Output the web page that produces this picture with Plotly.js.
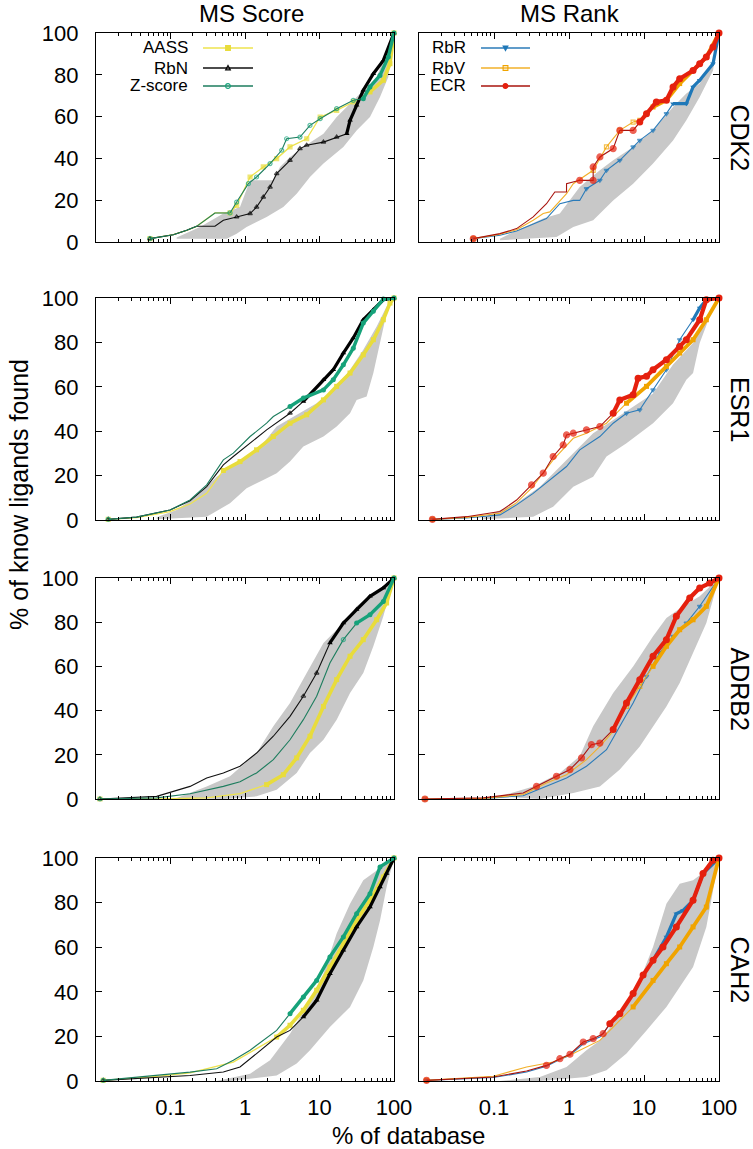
<!DOCTYPE html>
<html><head><meta charset="utf-8">
<script src="https://cdn.plot.ly/plotly-3.0.1.min.js"></script>
<style>html,body{margin:0;padding:0;background:#fff}#chart{width:753px;height:1149px}</style>
</head><body><div id="chart"></div>
<script>
// ---------------- DATA (x: % of database, y: % of known ligands found) ----------------
const targets = ['CDK2','ESR1','ADRB2','CAH2'];
const columns = ['MS Score','MS Rank'];
const scoreNames = ['AASS','RbN','Z-score'];
const rankNames = ['RbR','RbV','ECR'];
const xTickVals = [0.1,1,10,100];
const xTickText = ['0.1','1','10','100'];
const yTickVals = [0,20,40,60,80,100];

// CDK2 - MS Score
const CDK2_AASS_x = [0.053,0.109,0.165,0.224,0.395,0.629,0.773,1.17,1.76,2.66,4.02,6.73,10.2,17.0,28.4,47.6,71.9,88.3,100];
const CDK2_AASS_y = [1.6,3.5,5.6,7.5,13.9,13.9,17.5,31.1,35.9,39.9,45.5,49.4,59.8,63.0,67.0,71.8,77.4,85.3,100];
const CDK2_RbN_x = [0.053,0.109,0.165,0.224,0.395,0.512,0.773,1.17,1.43,1.76,2.17,2.66,4.02,5.47,6.73,11.3,17.0,23.2,25.7,31.5,38.7,52.8,71.9,100];
const CDK2_RbN_y = [1.6,3.5,5.6,7.5,7.5,10.4,12.0,13.6,16.7,21.5,26.3,32.7,39.1,44.7,46.3,47.8,50.2,51.8,58.2,65.4,72.6,80.5,86.9,100];
const CDK2_Z_x = [0.053,0.109,0.165,0.224,0.395,0.629,0.773,1.11,1.43,2.17,3.11,3.62,5.47,7.45,10.2,17.0,28.4,38.7,47.6,64.9,83.9,100];
const CDK2_Z_y = [1.6,3.5,5.6,7.5,13.9,13.9,19.1,27.9,31.1,37.5,43.9,49.4,50.2,55.8,59.0,63.8,67.8,68.6,74.2,79.7,88.5,100];
const CDK2_ScoreLo_x = [0.121,0.567,0.773,1.05,1.95,3.27,4.94,7.45,11.3,20.9,31.5,47.6,64.9,83.9,100];
const CDK2_ScoreLo_y = [1.6,1.6,4.0,7.2,12.0,16.7,23.1,31.1,37.5,45.5,53.4,59.8,69.4,78.9,100];
const CDK2_ScoreHi_x = [0.121,0.249,0.512,0.857,1.17,2.40,2.95,4.02,6.07,11.3,17.0,25.7,38.7,58.5,100];
const CDK2_ScoreHi_y = [2.1,7.2,13.6,16.7,29.5,29.5,35.9,40.7,45.5,51.8,59.8,66.2,72.6,78.9,100];
// CDK2 - MS Rank
const CDK2_RbR_x = [0.053,0.12,0.2,0.333,0.50,0.755,1.14,1.39,1.71,2.58,3.16,4.76,7.16,8.78,13.2,19.9,24.4,36.7,45.1,55.3,83.2,100];
const CDK2_RbR_y = [1.6,3.2,5.3,8.8,11.2,18.3,19.9,19.9,25.5,29.5,34.3,39.1,45.5,48.6,53.4,61.4,66.2,66.2,74.2,77.4,85.3,100];
const CDK2_RbV_x = [0.053,0.12,0.2,0.333,0.453,0.556,0.927,1.14,2.10,3.16,4.76,7.16,8.78,13.2,19.9,29.9,45.1,67.8,100];
const CDK2_RbV_y = [1.6,3.7,5.9,10.4,13.6,14.4,23.1,27.9,34.3,45.5,53.4,57.4,58.2,64.6,67.8,75.8,82.1,88.5,100];
const CDK2_ECR_x = [0.053,0.12,0.2,0.333,0.501,0.647,0.927,0.927,1.39,2.10,2.10,2.58,3.88,4.76,7.16,8.78,10.8,14.6,19.9,24.4,29.9,45.1,55.3,67.8,83.2,100];
const CDK2_ECR_y = [1.6,4.0,6.4,12.0,18.3,23.9,23.9,27.9,29.5,29.5,35.9,40.7,44.7,53.4,53.4,57.4,61.4,67.0,67.8,74.2,78.1,82.1,85.3,88.5,93.3,100];
const CDK2_RankLo_x = [0.12,0.682,1.14,2.10,3.88,7.16,13.2,24.4,36.7,55.3,83.2,100];
const CDK2_RankLo_y = [0.8,2.4,7.2,10.4,19.9,27.9,37.5,48.6,58.2,69.4,82.1,100];
const CDK2_RankHi_x = [0.12,0.163,0.453,0.755,1.39,2.58,3.88,7.16,13.2,24.4,36.7,55.3,83.2,100];
const CDK2_RankHi_y = [1.6,4.0,11.2,13.6,26.3,34.3,39.1,45.5,53.4,64.6,71.0,75.8,86.9,100];

// ESR1 - MS Score
const ESR1_AASS_x = [0.0146,0.035,0.0985,0.183,0.306,0.512,0.857,1.43,2.40,4.02,6.73,11.3,17.0,25.7,38.7,52.8,71.9,88.3,100];
const ESR1_AASS_y = [0.3,1.1,3.8,7.2,12.0,22.3,26.3,31.6,37.6,43.6,47.4,54.1,60.2,66.2,74.4,81.2,90.2,97.7,100];
const ESR1_RbN_x = [0.0146,0.035,0.0985,0.183,0.306,0.512,0.697,1.17,1.95,4.02,6.07,11.3,15.3,20.9,28.4,38.7,52.8,71.9,100];
const ESR1_RbN_y = [0.3,1.3,4.5,8.7,15.0,24.8,28.6,34.6,40.6,48.1,53.4,63.2,67.7,75.2,82.0,90.2,94.7,99.2,100];
const ESR1_Z_x = [0.0146,0.035,0.0985,0.183,0.306,0.512,0.697,1.17,1.95,2.40,4.02,6.07,11.3,15.3,20.9,28.4,38.7,52.8,71.9,100];
const ESR1_Z_y = [0.3,1.3,4.5,9.0,15.8,27.1,30.1,37.6,43.6,46.6,51.1,54.9,58.6,63.2,69.9,77.4,88.7,94.0,99.5,100];
const ESR1_ScoreLo_x = [0.0652,0.306,0.629,1.05,1.76,2.66,4.02,6.07,11.3,17.0,25.7,31.5,42.9,52.8,64.9,79.6,100];
const ESR1_ScoreLo_y = [0.3,1.5,7.5,14.3,18.0,21.1,26.3,33.1,37.6,42.1,48.1,54.1,55.6,66.2,79.7,93.2,100];
const ESR1_ScoreHi_x = [0.0652,0.121,0.249,0.417,0.857,1.76,2.66,4.94,9.16,17.0,25.7,38.7,58.5,79.6,100];
const ESR1_ScoreHi_y = [1.2,4.5,12.0,19.5,26.3,34.6,42.1,47.4,52.6,60.2,67.7,76.7,87.2,96.2,100];
// ESR1 - MS Rank
const ESR1_RbR_x = [0.0151,0.0431,0.12,0.2,0.333,0.615,0.927,1.39,2.58,3.88,5.84,8.78,13.2,19.9,29.9,45.1,55.3,67.8,100];
const ESR1_RbR_y = [0.3,0.9,2.3,6.8,12.0,19.5,24.1,31.6,37.6,43.6,48.1,49.6,58.6,67.7,81.2,90.2,95.5,99.2,100];
const ESR1_RbV_x = [0.0151,0.0431,0.12,0.2,0.317,0.615,1.14,1.71,3.16,5.84,10.8,19.9,29.9,45.1,67.8,100];
const ESR1_RbV_y = [0.3,1.2,3.0,7.8,14.3,27.1,36.8,39.1,43.6,52.6,60.2,69.2,75.2,81.2,90.2,100];
const ESR1_ECR_x = [0.0151,0.0431,0.12,0.2,0.317,0.453,0.615,0.836,0.927,1.14,1.71,2.58,3.88,4.76,7.16,8.34,10.8,13.2,19.9,29.9,36.7,55.3,67.8,100];
const ESR1_ECR_y = [0.3,1.5,3.8,9.0,15.8,21.1,28.6,33.8,38.3,39.1,40.6,42.1,48.1,54.1,56.4,63.9,64.7,67.7,72.2,78.2,81.2,90.2,99.2,100];
const ESR1_RankLo_x = [0.072,0.333,0.615,1.14,2.10,3.16,5.84,13.2,24.4,36.7,45.1,55.3,75.2,100];
const ESR1_RankLo_y = [0.3,1.5,6.0,15.0,19.5,28.6,34.6,43.6,52.6,63.2,66.2,79.7,91.7,100];
const ESR1_RankHi_x = [0.072,0.2,0.409,0.755,1.39,2.10,3.88,7.16,13.2,24.4,45.1,67.8,100];
const ESR1_RankHi_y = [1.2,7.5,15.0,24.1,33.1,39.1,45.1,51.1,57.0,70.0,79.7,90.2,100];

// ADRB2 - MS Score
const ADRB2_AASS_x = [0.0113,0.0652,0.306,0.857,1.95,3.27,4.94,7.45,11.3,17.0,25.7,38.7,58.5,79.6,100];
const ADRB2_AASS_y = [0,0,0.5,2.4,6.5,11.0,18.6,28.4,41.9,54.0,64.6,72.1,81.1,88.7,100];
const ADRB2_RbN_x = [0.0113,0.0652,0.183,0.306,0.512,0.857,1.43,2.40,4.02,6.07,9.16,13.8,20.9,31.5,47.6,71.9,100];
const ADRB2_RbN_y = [0,1.2,5.7,9.5,11.8,14.8,20.8,28.4,37.4,46.5,57.0,70.6,79.6,85.7,91.7,95.5,100];
const ADRB2_Z_x = [0.0113,0.0652,0.183,0.512,0.857,1.43,2.40,4.02,6.07,9.16,13.8,20.9,31.5,47.6,71.9,100];
const ADRB2_Z_y = [0,0.5,2.4,5.7,7.8,11.8,17.8,26.8,35.9,46.5,61.5,72.1,79.6,83.4,89.4,100];
const ADRB2_ScoreLo_x = [0.512,1.43,2.66,4.94,7.45,11.3,17.0,25.7,38.7,52.8,71.9,100];
const ADRB2_ScoreLo_y = [0,1.2,4.2,11.8,20.8,26.8,35.9,48.0,57.0,69.1,82.7,100];
const ADRB2_ScoreHi_x = [0.121,0.306,0.629,1.43,2.40,4.02,6.73,11.3,18.8,31.5,52.8,100];
const ADRB2_ScoreHi_y = [0.5,5.7,10.3,20.8,32.9,43.4,57.0,70.6,78.1,87.2,93.2,100];
// ADRB2 - MS Rank
const ADRB2_RbR_x = [0.012,0.072,0.245,0.50,0.927,1.71,3.16,4.76,7.16,10.8,16.2,24.4,36.7,55.3,100];
const ADRB2_RbR_y = [0,0.2,1.5,5.7,9.5,14.8,22.3,32.9,43.4,55.5,66.1,73.6,79.6,87.2,100];
const ADRB2_RbV_x = [0.012,0.072,0.245,0.50,0.927,1.71,2.58,3.88,5.84,8.78,13.2,19.9,29.9,45.1,67.8,100];
const ADRB2_RbV_y = [0,0.3,2.0,7.2,11.0,17.8,23.8,30.6,41.9,51.0,60.0,69.1,76.6,81.1,87.2,100];
const ADRB2_ECR_x = [0.012,0.072,0.245,0.369,0.681,1.03,1.47,1.99,2.58,3.88,5.84,8.78,13.2,19.9,27.0,40.7,55.3,75.2,100];
const ADRB2_ECR_y = [0,0.5,2.7,5.7,10.3,13.3,18.6,24.6,25.3,31.4,43.4,54.0,64.6,72.1,82.7,91.0,95.5,97.7,100];
const ADRB2_RankLo_x = [0.409,1.14,2.58,4.76,8.78,13.2,19.9,29.9,45.1,67.8,100];
const ADRB2_RankLo_y = [0,2.7,5.7,13.3,23.8,32.9,41.9,52.5,66.1,79.6,100];
const ADRB2_RankHi_x = [0.12,0.333,0.755,1.39,2.10,3.88,7.16,13.2,19.9,33.2,55.3,100];
const ADRB2_RankHi_y = [1.2,5.7,11.8,19.3,32.9,48.0,60.0,73.6,81.9,87.2,91.7,100];

// CAH2 - MS Score
const CAH2_AASS_x = [0.0125,0.0652,0.183,0.697,1.43,2.66,4.02,6.07,9.16,13.8,20.9,31.5,47.6,71.9,100];
const CAH2_AASS_y = [0.3,2.1,3.6,8.5,14.5,19.7,25.0,31.7,40.7,51.1,61.6,72.0,81.0,91.5,100];
const CAH2_RbN_x = [0.0125,0.0652,0.183,0.512,0.857,1.43,2.66,4.02,6.07,9.16,13.8,20.9,31.5,47.6,64.9,79.6,100];
const CAH2_RbN_y = [0.3,1.5,2.5,4.0,6.3,12.3,19.7,22.7,28.7,36.2,48.1,58.6,69.1,78.0,87.0,93.0,100];
const CAH2_Z_x = [0.0125,0.0652,0.183,0.417,0.697,1.17,1.76,2.66,4.02,6.07,9.16,13.8,20.9,31.5,47.6,64.9,100];
const CAH2_Z_y = [0.3,2.5,4.0,5.5,9.3,13.8,18.2,22.7,30.2,37.7,45.1,55.6,64.6,75.0,84.0,96.0,100];
const CAH2_ScoreLo_x = [0.629,2.66,4.94,7.45,13.8,25.7,38.7,52.8,64.9,79.6,100];
const CAH2_ScoreLo_y = [0,2.5,7.8,13.8,24.2,33.2,45.1,60.1,72.0,87.0,100];
const CAH2_ScoreHi_x = [0.417,1.17,2.17,4.02,7.45,11.3,17.0,25.7,38.7,58.5,100];
const CAH2_ScoreHi_y = [0,3.3,9.3,21.2,36.2,48.1,66.1,79.5,90.0,94.5,100];
// CAH2 - MS Rank
const CAH2_RbR_x = [0.0126,0.098,0.272,0.50,0.755,1.03,1.55,2.58,3.88,5.84,8.78,13.2,19.9,27.0,33.2,45.1,61.2,100];
const CAH2_RbR_y = [0.3,1.6,4.0,6.6,9.6,11.5,16.7,19.7,27.2,34.7,45.1,54.1,64.6,75.0,76.5,81.0,93.0,100];
const CAH2_RbV_x = [0.0126,0.098,0.272,0.615,1.14,2.58,3.88,7.16,13.2,19.9,29.9,45.1,67.8,100];
const CAH2_RbV_y = [0.3,2.1,6.3,8.5,12.3,18.2,24.2,33.2,45.1,52.6,60.1,69.1,78.0,100];
const CAH2_ECR_x = [0.0126,0.098,0.272,0.50,0.755,1.03,1.55,2.10,2.85,3.50,4.76,7.16,9.73,13.2,17.9,27.0,45.1,61.2,83.2,100];
const CAH2_ECR_y = [0.3,1.8,4.5,7.0,10.0,12.0,17.5,19.0,21.2,25.7,30.2,39.2,47.5,54.1,60.1,69.1,81.0,93.0,99.0,100];
const CAH2_RankLo_x = [0.409,1.71,3.16,5.84,10.8,19.9,29.9,45.1,67.8,100];
const CAH2_RankLo_y = [0,1.8,4.8,12.3,22.7,33.2,42.2,51.1,69.1,100];
const CAH2_RankHi_x = [0.12,0.409,0.927,1.71,2.58,3.88,7.16,13.2,19.9,29.9,45.1,67.8,100];
const CAH2_RankHi_y = [0,1.8,6.3,13.8,18.2,25.7,37.7,60.1,79.5,88.5,90.0,94.5,100];

// ---------------- STRUCTURE ----------------
const panels = [
  {t:'CDK2', col:0, band:[CDK2_ScoreLo_x,CDK2_ScoreLo_y,CDK2_ScoreHi_x,CDK2_ScoreHi_y],
   series:[[CDK2_AASS_x,CDK2_AASS_y],[CDK2_RbN_x,CDK2_RbN_y],[CDK2_Z_x,CDK2_Z_y]]},
  {t:'CDK2', col:1, band:[CDK2_RankLo_x,CDK2_RankLo_y,CDK2_RankHi_x,CDK2_RankHi_y],
   series:[[CDK2_RbR_x,CDK2_RbR_y],[CDK2_RbV_x,CDK2_RbV_y],[CDK2_ECR_x,CDK2_ECR_y]]},
  {t:'ESR1', col:0, band:[ESR1_ScoreLo_x,ESR1_ScoreLo_y,ESR1_ScoreHi_x,ESR1_ScoreHi_y],
   series:[[ESR1_AASS_x,ESR1_AASS_y],[ESR1_RbN_x,ESR1_RbN_y],[ESR1_Z_x,ESR1_Z_y]]},
  {t:'ESR1', col:1, band:[ESR1_RankLo_x,ESR1_RankLo_y,ESR1_RankHi_x,ESR1_RankHi_y],
   series:[[ESR1_RbR_x,ESR1_RbR_y],[ESR1_RbV_x,ESR1_RbV_y],[ESR1_ECR_x,ESR1_ECR_y]]},
  {t:'ADRB2', col:0, band:[ADRB2_ScoreLo_x,ADRB2_ScoreLo_y,ADRB2_ScoreHi_x,ADRB2_ScoreHi_y],
   series:[[ADRB2_AASS_x,ADRB2_AASS_y],[ADRB2_RbN_x,ADRB2_RbN_y],[ADRB2_Z_x,ADRB2_Z_y]]},
  {t:'ADRB2', col:1, band:[ADRB2_RankLo_x,ADRB2_RankLo_y,ADRB2_RankHi_x,ADRB2_RankHi_y],
   series:[[ADRB2_RbR_x,ADRB2_RbR_y],[ADRB2_RbV_x,ADRB2_RbV_y],[ADRB2_ECR_x,ADRB2_ECR_y]]},
  {t:'CAH2', col:0, band:[CAH2_ScoreLo_x,CAH2_ScoreLo_y,CAH2_ScoreHi_x,CAH2_ScoreHi_y],
   series:[[CAH2_AASS_x,CAH2_AASS_y],[CAH2_RbN_x,CAH2_RbN_y],[CAH2_Z_x,CAH2_Z_y]]},
  {t:'CAH2', col:1, band:[CAH2_RankLo_x,CAH2_RankLo_y,CAH2_RankHi_x,CAH2_RankHi_y],
   series:[[CAH2_RbR_x,CAH2_RbR_y],[CAH2_RbV_x,CAH2_RbV_y],[CAH2_ECR_x,CAH2_ECR_y]]}
];

// ---------------- STYLE ----------------
const W = 753, H = 1149;
const FONT = 'Liberation Sans, Arial, Helvetica, sans-serif';
const colPx = [[96,394],[419,719]];
const rowPx = [[33,242],[298,520],[578,799],[858,1081]];
const scoreStyles = [
  {line:'#eee34e', mcolor:'#e8dc3c', symbol:'square', msize:4, lw:1.3, tw:3.6},
  {line:'#111111', mcolor:'#000000', symbol:'triangle-up-open', msize:4, lw:1.1, tw:3.2},
  {line:'#1d7d5e', mcolor:'#16a27a', symbol:'circle-open', msize:4, lw:1.1, tw:3.4}
];
const rankStyles = [
  {line:'#2b7bb9', mcolor:'#1f78b8', symbol:'triangle-down', msize:4, lw:1.1, tw:3.2},
  {line:'#f2b02a', mcolor:'#f0a400', symbol:'square-open', msize:4, lw:1.1, tw:3.8},
  {line:'#a8140e', mcolor:'#e5200e', symbol:'circle', msize:6, lw:1.1, tw:4.2}
];
// per panel, per series: [x where sparse markers start, x where the line becomes dense/thick]
const markCfg = [
  [[0.6,40],[0.6,20],[0.6,30]],
  [[1.5,20],[1.5,10],[1.0,8]],
  [[0.5,0.5],[3,5],[3,3]],
  [[5,30],[5,5],[0.25,3]],
  [[1,1],[5,10],[20,30]],
  [[10,200],[5,10],[0.3,3]],
  [[2,2],[5,5],[3,3]],
  [[10,10],[5,5],[0.3,3]]
];

const minorVals = [];
[0.01,0.1,1,10].forEach(d => { for (let m=2;m<=9;m++) minorVals.push(+(d*m).toPrecision(3)); });

const traces = [];
const layout = {
  width: W, height: H, margin:{l:0,r:0,t:0,b:0},
  paper_bgcolor:'#fff', plot_bgcolor:'#fff', showlegend:false,
  font:{family:FONT, color:'#000'},
  annotations:[], shapes:[]
};

panels.forEach((p, i) => {
  const k = i + 1;
  const row = Math.floor(i/2);
  const xa = 'x' + (k>1?k:''), ya = 'y' + (k>1?k:'');
  const xd = [colPx[p.col][0]/W, colPx[p.col][1]/W];
  const yd = [1 - rowPx[row][1]/H, 1 - rowPx[row][0]/H];
  layout['xaxis' + (k>1?k:'')] = {
    type:'log', range:[-2,2], domain:xd, anchor:ya,
    tickmode:'array', tickvals:xTickVals, ticktext:xTickText,
    ticks:'inside', ticklen:6, tickwidth:1, tickcolor:'#000',
    showline:true, linecolor:'#000', linewidth:1.2, mirror:'allticks',
    showgrid:false, zeroline:false, showticklabels: row===3,
    tickfont:{size:22, family:FONT, color:'#000'}, ticklabelstandoff:6,
    minor:{tickmode:'array', tickvals:minorVals, ticks:'inside', ticklen:3, tickcolor:'#000', showgrid:false}
  };
  layout['yaxis' + (k>1?k:'')] = {
    range:[0,100], domain:yd, anchor:xa,
    tickmode:'array', tickvals:yTickVals,
    ticks:'inside', ticklen:6, tickwidth:1, tickcolor:'#000',
    showline:true, linecolor:'#000', linewidth:1.2, mirror:'allticks',
    showgrid:false, zeroline:false, showticklabels: p.col===0,
    tickfont:{size:22, family:FONT, color:'#000'}, ticklabelstandoff:12
  };
  // gray band polygon
  const [lx, ly, hx, hy] = p.band;
  traces.push({
    x: hx.concat(lx.slice().reverse()), y: hy.concat(ly.slice().reverse()),
    xaxis:xa, yaxis:ya, mode:'lines', fill:'toself', fillcolor:'#c8c8c8',
    line:{width:0, color:'#c8c8c8'}, hoverinfo:'skip'
  });
  const styles = p.col===0 ? scoreStyles : rankStyles;
  const names = p.col===0 ? scoreNames : rankNames;
  p.series.forEach((s, j) => {
    const st = styles[j];
    const [mThr, tThr] = markCfg[i][j];
    const sizes = s[0].map((v, n) => (n===0 || (v>=mThr && v<tThr)) ? st.msize : 0);
    traces.push({
      x: s[0], y: s[1], name: names[j], xaxis:xa, yaxis:ya,
      mode:'lines+markers', cliponaxis:false,
      line:{color:st.line, width:st.lw},
      marker:{color:st.mcolor, symbol:st.symbol, size:sizes, line:{color:st.mcolor, width:1.2}}
    });
    // dense part of the curve (many overlapping points) drawn as a heavier stroke
    const idx = s[0].map((v, n) => n).filter(n => s[0][n] >= tThr);
    if (idx.length > 1) {
      traces.push({
        x: idx.map(n => s[0][n]), y: idx.map(n => s[1][n]), xaxis:xa, yaxis:ya,
        mode:'lines+markers', cliponaxis:false, hoverinfo:'skip',
        line:{color:st.mcolor, width:st.tw},
        marker:{color:st.mcolor, symbol:st.symbol.replace('-open',''), size:st.msize+1}
      });
    }
  });
  if (p.col===1) {
    layout.annotations.push({
      xref:'paper', yref:'paper', x:740/W, y:1-(rowPx[row][0]+rowPx[row][1])/2/H,
      text:p.t, showarrow:false, textangle:90, font:{size:25, family:FONT, color:'#000'},
      xanchor:'center', yanchor:'middle'
    });
  }
});

// column titles
layout.annotations.push({xref:'paper', yref:'paper', x:252/W, y:1-13/H, text:columns[0], showarrow:false,
  font:{size:24, family:FONT, color:'#000'}, xanchor:'center', yanchor:'middle'});
layout.annotations.push({xref:'paper', yref:'paper', x:570/W, y:1-13/H, text:columns[1], showarrow:false,
  font:{size:24, family:FONT, color:'#000'}, xanchor:'center', yanchor:'middle'});
// axis titles
layout.annotations.push({xref:'paper', yref:'paper', x:19/W, y:1-495/H, text:'% of know ligands found', showarrow:false,
  textangle:-90, font:{size:25, family:FONT, color:'#000'}, xanchor:'center', yanchor:'middle'});
layout.annotations.push({xref:'paper', yref:'paper', x:409/W, y:1-1135/H, text:'% of database', showarrow:false,
  font:{size:24, family:FONT, color:'#000'}, xanchor:'center', yanchor:'middle'});

// legends (text, then line sample with marker)
const PX = v => v/W, PY = v => 1 - v/H;
function legendEntry(label, textRight, yc, x0, x1, st) {
  layout.annotations.push({xref:'paper', yref:'paper', x:PX(textRight), y:PY(yc), text:label, showarrow:false,
    xanchor:'right', yanchor:'middle', font:{size:17, family:FONT, color:'#000'}});
  layout.shapes.push({type:'line', xref:'paper', yref:'paper', x0:PX(x0), x1:PX(x1), y0:PY(yc), y1:PY(yc),
    line:{color:st.line, width:1.3}});
  const xm = (x0+x1)/2, r = 2.4;
  let path;
  if (st.symbol.startsWith('triangle-up')) path = `M${PX(xm-r)},${PY(yc+r*0.8)} L${PX(xm+r)},${PY(yc+r*0.8)} L${PX(xm)},${PY(yc-r*1.1)} Z`;
  else if (st.symbol.startsWith('triangle-down')) path = `M${PX(xm-r)},${PY(yc-r*0.8)} L${PX(xm+r)},${PY(yc-r*0.8)} L${PX(xm)},${PY(yc+r*1.1)} Z`;
  else if (st.symbol.startsWith('square')) path = `M${PX(xm-r)},${PY(yc-r)} L${PX(xm+r)},${PY(yc-r)} L${PX(xm+r)},${PY(yc+r)} L${PX(xm-r)},${PY(yc+r)} Z`;
  const open = st.symbol.endsWith('open');
  if (path) {
    layout.shapes.push({type:'path', xref:'paper', yref:'paper', path,
      fillcolor: open ? 'rgba(0,0,0,0)' : st.mcolor, line:{color:st.mcolor, width:1.1}});
  } else {
    layout.shapes.push({type:'circle', xref:'paper', yref:'paper', x0:PX(xm-r), x1:PX(xm+r), y0:PY(yc+r), y1:PY(yc-r),
      fillcolor: open ? 'rgba(0,0,0,0)' : st.mcolor, line:{color:st.mcolor, width:1.1}});
  }
}
const legY = [48, 68, 86];
scoreNames.forEach((n, j) => legendEntry(n, 190, legY[j], 203, 253, scoreStyles[j]));
rankNames.forEach((n, j) => legendEntry(n, 468, legY[j], 481, 530, rankStyles[j]));

Plotly.newPlot('chart', traces, layout, {staticPlot:true, displayModeBar:false});
</script></body></html>
